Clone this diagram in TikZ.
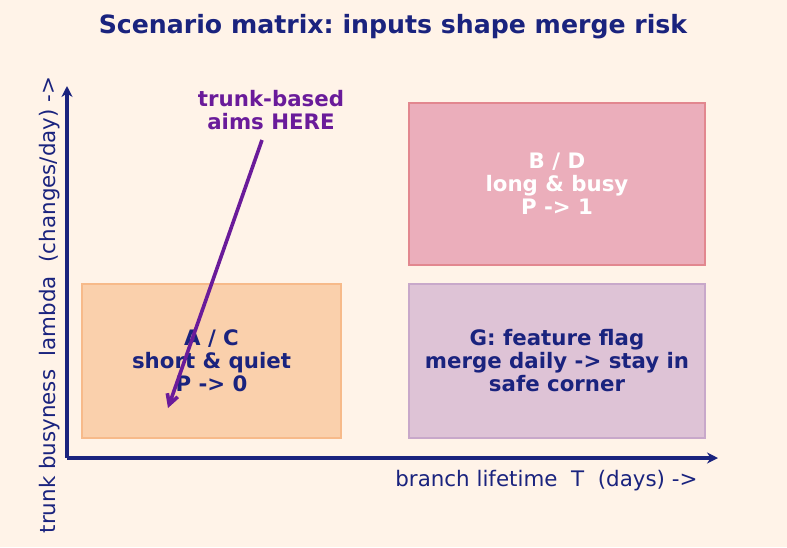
\documentclass[tikz,border=0pt]{standalone}
\usepackage{fontspec}
\setmainfont{DejaVu Sans}
\usetikzlibrary{arrows.meta}
\frenchspacing
\definecolor{bg}{HTML}{FFF3E8}
\definecolor{navy}{HTML}{1A237E}
\definecolor{purp}{HTML}{6A1B9A}
\definecolor{acfill}{HTML}{FAD0AC}
\definecolor{acdraw}{HTML}{F7BA8A}
\definecolor{bdfill}{HTML}{EBAEBB}
\definecolor{bddraw}{HTML}{E2878F}
\definecolor{gfill}{HTML}{DEC3D6}
\definecolor{gdraw}{HTML}{C8A8CA}
\begin{document}
\begin{tikzpicture}[x=1pt,y=-1pt,
  quad/.style={draw,line width=1.5pt,inner sep=0pt},
  qtext/.style={font=\bfseries\fontsize{21.3}{23}\selectfont,align=center},
  axis/.style={navy,line width=4pt,-{Stealth[length=11pt,width=11pt]}},
  pointer/.style={purp,line width=3.6pt,-{Straight Barb[length=10pt,width=11pt]}}]
\useasboundingbox[fill=bg] (0,0) rectangle (787,547);
\node[font=\bfseries\fontsize{25.2}{28}\selectfont,text=navy] (title) at (393,27) {Scenario matrix: inputs shape merge risk};
% axes
\coordinate (origin) at (67,458);
\coordinate (ytop) at (67,86);
\coordinate (xend) at (718,458);
\draw[axis] (origin) -- (ytop);
\draw[axis] (origin) -- (xend);
% quadrants
\draw[quad,fill=acfill,draw=acdraw] (82,284) rectangle (341,438);
\node[qtext,text=navy] (ac) at (211.5,361) {A / C\\short \& quiet\\P -> 0};
\draw[quad,fill=bdfill,draw=bddraw] (409,103) rectangle (705,265);
\node[qtext,text=white] (bd) at (557,184) {B / D\\long \& busy\\P -> 1};
\draw[quad,fill=gfill,draw=gdraw] (409,284) rectangle (705,438);
\node[qtext,text=navy] (g) at (557,361) {G: feature flag\\merge daily -> stay in\\safe corner};
% axis labels
\node[font=\fontsize{21.4}{24}\selectfont,text=navy,anchor=east] (xlab) at (701,481) {branch lifetime\ \ T\ \ (days) ->};
\node[font=\fontsize{21.4}{24}\selectfont,text=navy,rotate=90] (ylab) at (50,305) {trunk busyness\ \ lambda\ \ (changes/day) ->};
% annotation
\node[font=\bfseries\fontsize{21.3}{23}\selectfont,text=purp,align=center] (tb) at (271,110) {trunk-based\\aims HERE};
\coordinate (tip) at (168,408);
\draw[pointer] (262,140) -- (tip);
\end{tikzpicture}
\end{document}
